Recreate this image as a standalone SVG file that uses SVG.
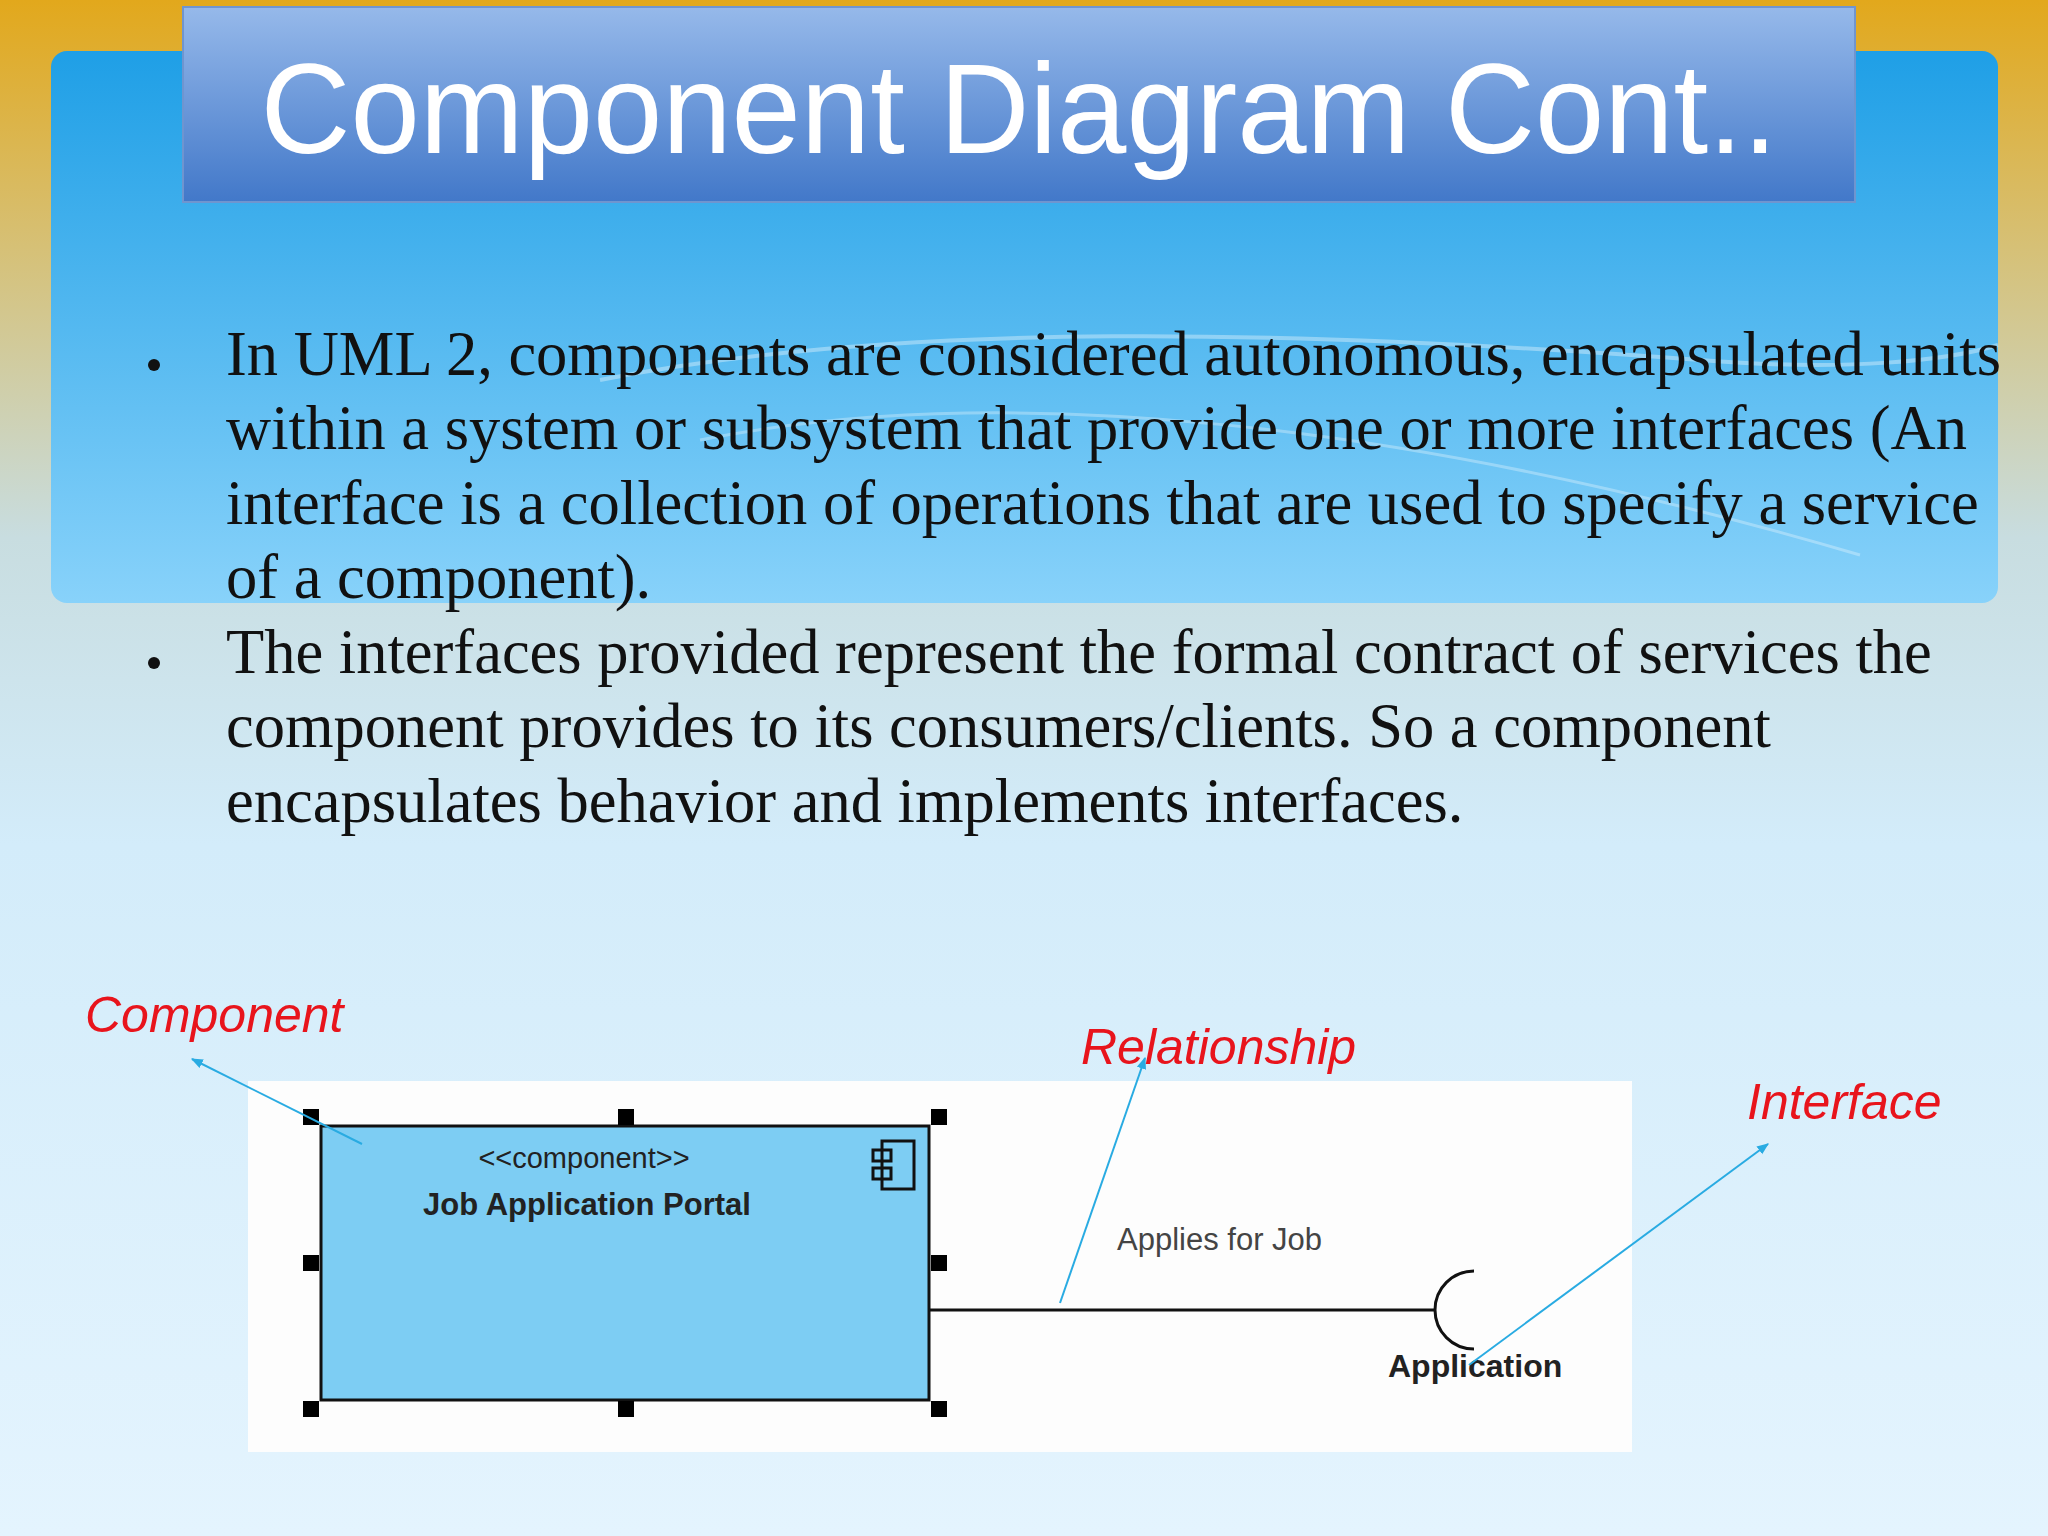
<svg xmlns="http://www.w3.org/2000/svg" width="2048" height="1536" viewBox="0 0 2048 1536">
<defs>
<linearGradient id="bg" x1="0" y1="0" x2="0" y2="1"><stop offset="0" stop-color="#e2a81c"/><stop offset="0.35" stop-color="#c8dde0"/><stop offset="0.55" stop-color="#d3ecfa"/><stop offset="1" stop-color="#e4f4fe"/></linearGradient>
<linearGradient id="sky" x1="0" y1="0" x2="0" y2="1"><stop offset="0" stop-color="#1f9fe6"/><stop offset="1" stop-color="#88d2fa"/></linearGradient>
<linearGradient id="tt" x1="0" y1="0" x2="0" y2="1"><stop offset="0" stop-color="#96b9ea"/><stop offset="1" stop-color="#4278c9"/></linearGradient>
<marker id="ah" viewBox="0 0 10 10" refX="9" refY="5" markerWidth="6" markerHeight="6" orient="auto"><path d="M0,1 L10,5 L0,9 z" fill="#29abe2"/></marker>
<style>
.b{font-family:"Liberation Serif",serif;font-size:62.5px;fill:#111}
.r{font-family:"Liberation Sans",sans-serif;font-size:50px;font-style:italic;fill:#e8141c}
.p{stroke:#29abe2;stroke-width:2;fill:none;marker-end:url(#ah)}
.h{fill:#000}
</style>
</defs>
<rect width="2048" height="1536" fill="url(#bg)"/>
<rect x="51" y="51" width="1947" height="552" rx="16" fill="url(#sky)"/>
<path d="M600,380 C900,320 1300,330 1700,360 C1850,372 1950,360 1998,345" stroke="#ffffff" stroke-opacity="0.35" stroke-width="4" fill="none"/>
<path d="M700,440 C1000,380 1400,420 1860,555" stroke="#ffffff" stroke-opacity="0.3" stroke-width="3" fill="none"/>
<g id="title">
<rect x="183" y="7" width="1672" height="195" fill="url(#tt)" stroke="#6f95cf" stroke-width="2"/>
<text x="1019" y="153" text-anchor="middle" font-family="Liberation Sans,sans-serif" font-size="128" fill="#fff" textLength="1517" lengthAdjust="spacingAndGlyphs">Component Diagram Cont..</text>
</g>
<g id="bullets">
<circle cx="154" cy="365" r="6" fill="#111"/>
<circle cx="154" cy="663" r="6" fill="#111"/>
<text class="b" x="226" y="375">In UML 2, components are considered autonomous, encapsulated units</text>
<text class="b" x="226" y="449">within a system or subsystem that provide one or more interfaces (An</text>
<text class="b" x="226" y="524">interface is a collection of operations that are used to specify a service</text>
<text class="b" x="226" y="598">of a component).</text>
<text class="b" x="226" y="673">The interfaces provided represent the formal contract of services the</text>
<text class="b" x="226" y="747">component provides to its consumers/clients. So a component</text>
<text class="b" x="226" y="822">encapsulates behavior and implements interfaces.</text>
</g>
<rect x="248" y="1081" width="1384" height="371" fill="#fdfdfd"/>
<g id="component">
<rect x="321" y="1126" width="608" height="274" fill="#7dcdf3" stroke="#111" stroke-width="3"/>
<rect class="h" x="303" y="1109" width="16" height="16"/><rect class="h" x="618" y="1109" width="16" height="16"/><rect class="h" x="931" y="1109" width="16" height="16"/>
<rect class="h" x="303" y="1255" width="16" height="16"/><rect class="h" x="931" y="1255" width="16" height="16"/>
<rect class="h" x="303" y="1401" width="16" height="16"/><rect class="h" x="618" y="1401" width="16" height="16"/><rect class="h" x="931" y="1401" width="16" height="16"/>
<g fill="none" stroke="#111" stroke-width="3"><rect x="882" y="1141" width="32" height="48"/><rect x="873" y="1150" width="18" height="11"/><rect x="873" y="1168" width="18" height="11"/></g>
<text x="584" y="1168" text-anchor="middle" font-family="Liberation Sans,sans-serif" font-size="29" fill="#222">&lt;&lt;component&gt;&gt;</text>
<text x="587" y="1215" text-anchor="middle" font-family="Liberation Sans,sans-serif" font-size="31" font-weight="bold" fill="#222">Job Application Portal</text>
</g>
<g id="interface">
<path d="M1474,1271 A39,39 0 0 0 1474,1349" fill="none" stroke="#111" stroke-width="3"/>
<text x="1388" y="1377" font-family="Liberation Sans,sans-serif" font-size="32" font-weight="bold" fill="#222">Application</text>
</g>
<g id="connectors">
<line x1="929" y1="1310" x2="1435" y2="1310" stroke="#111" stroke-width="3"/>
<text x="1117" y="1250" font-family="Liberation Sans,sans-serif" font-size="31" fill="#444">Applies for Job</text>
<line class="p" x1="362" y1="1144" x2="192" y2="1059"/>
<line class="p" x1="1060" y1="1303" x2="1145" y2="1058"/>
<line class="p" x1="1469" y1="1365" x2="1768" y2="1144"/>
</g>
<g id="labels">
<text class="r" x="85" y="1032">Component</text>
<text class="r" x="1081" y="1064">Relationship</text>
<text class="r" x="1747" y="1119">Interface</text>
</g>
</svg>
